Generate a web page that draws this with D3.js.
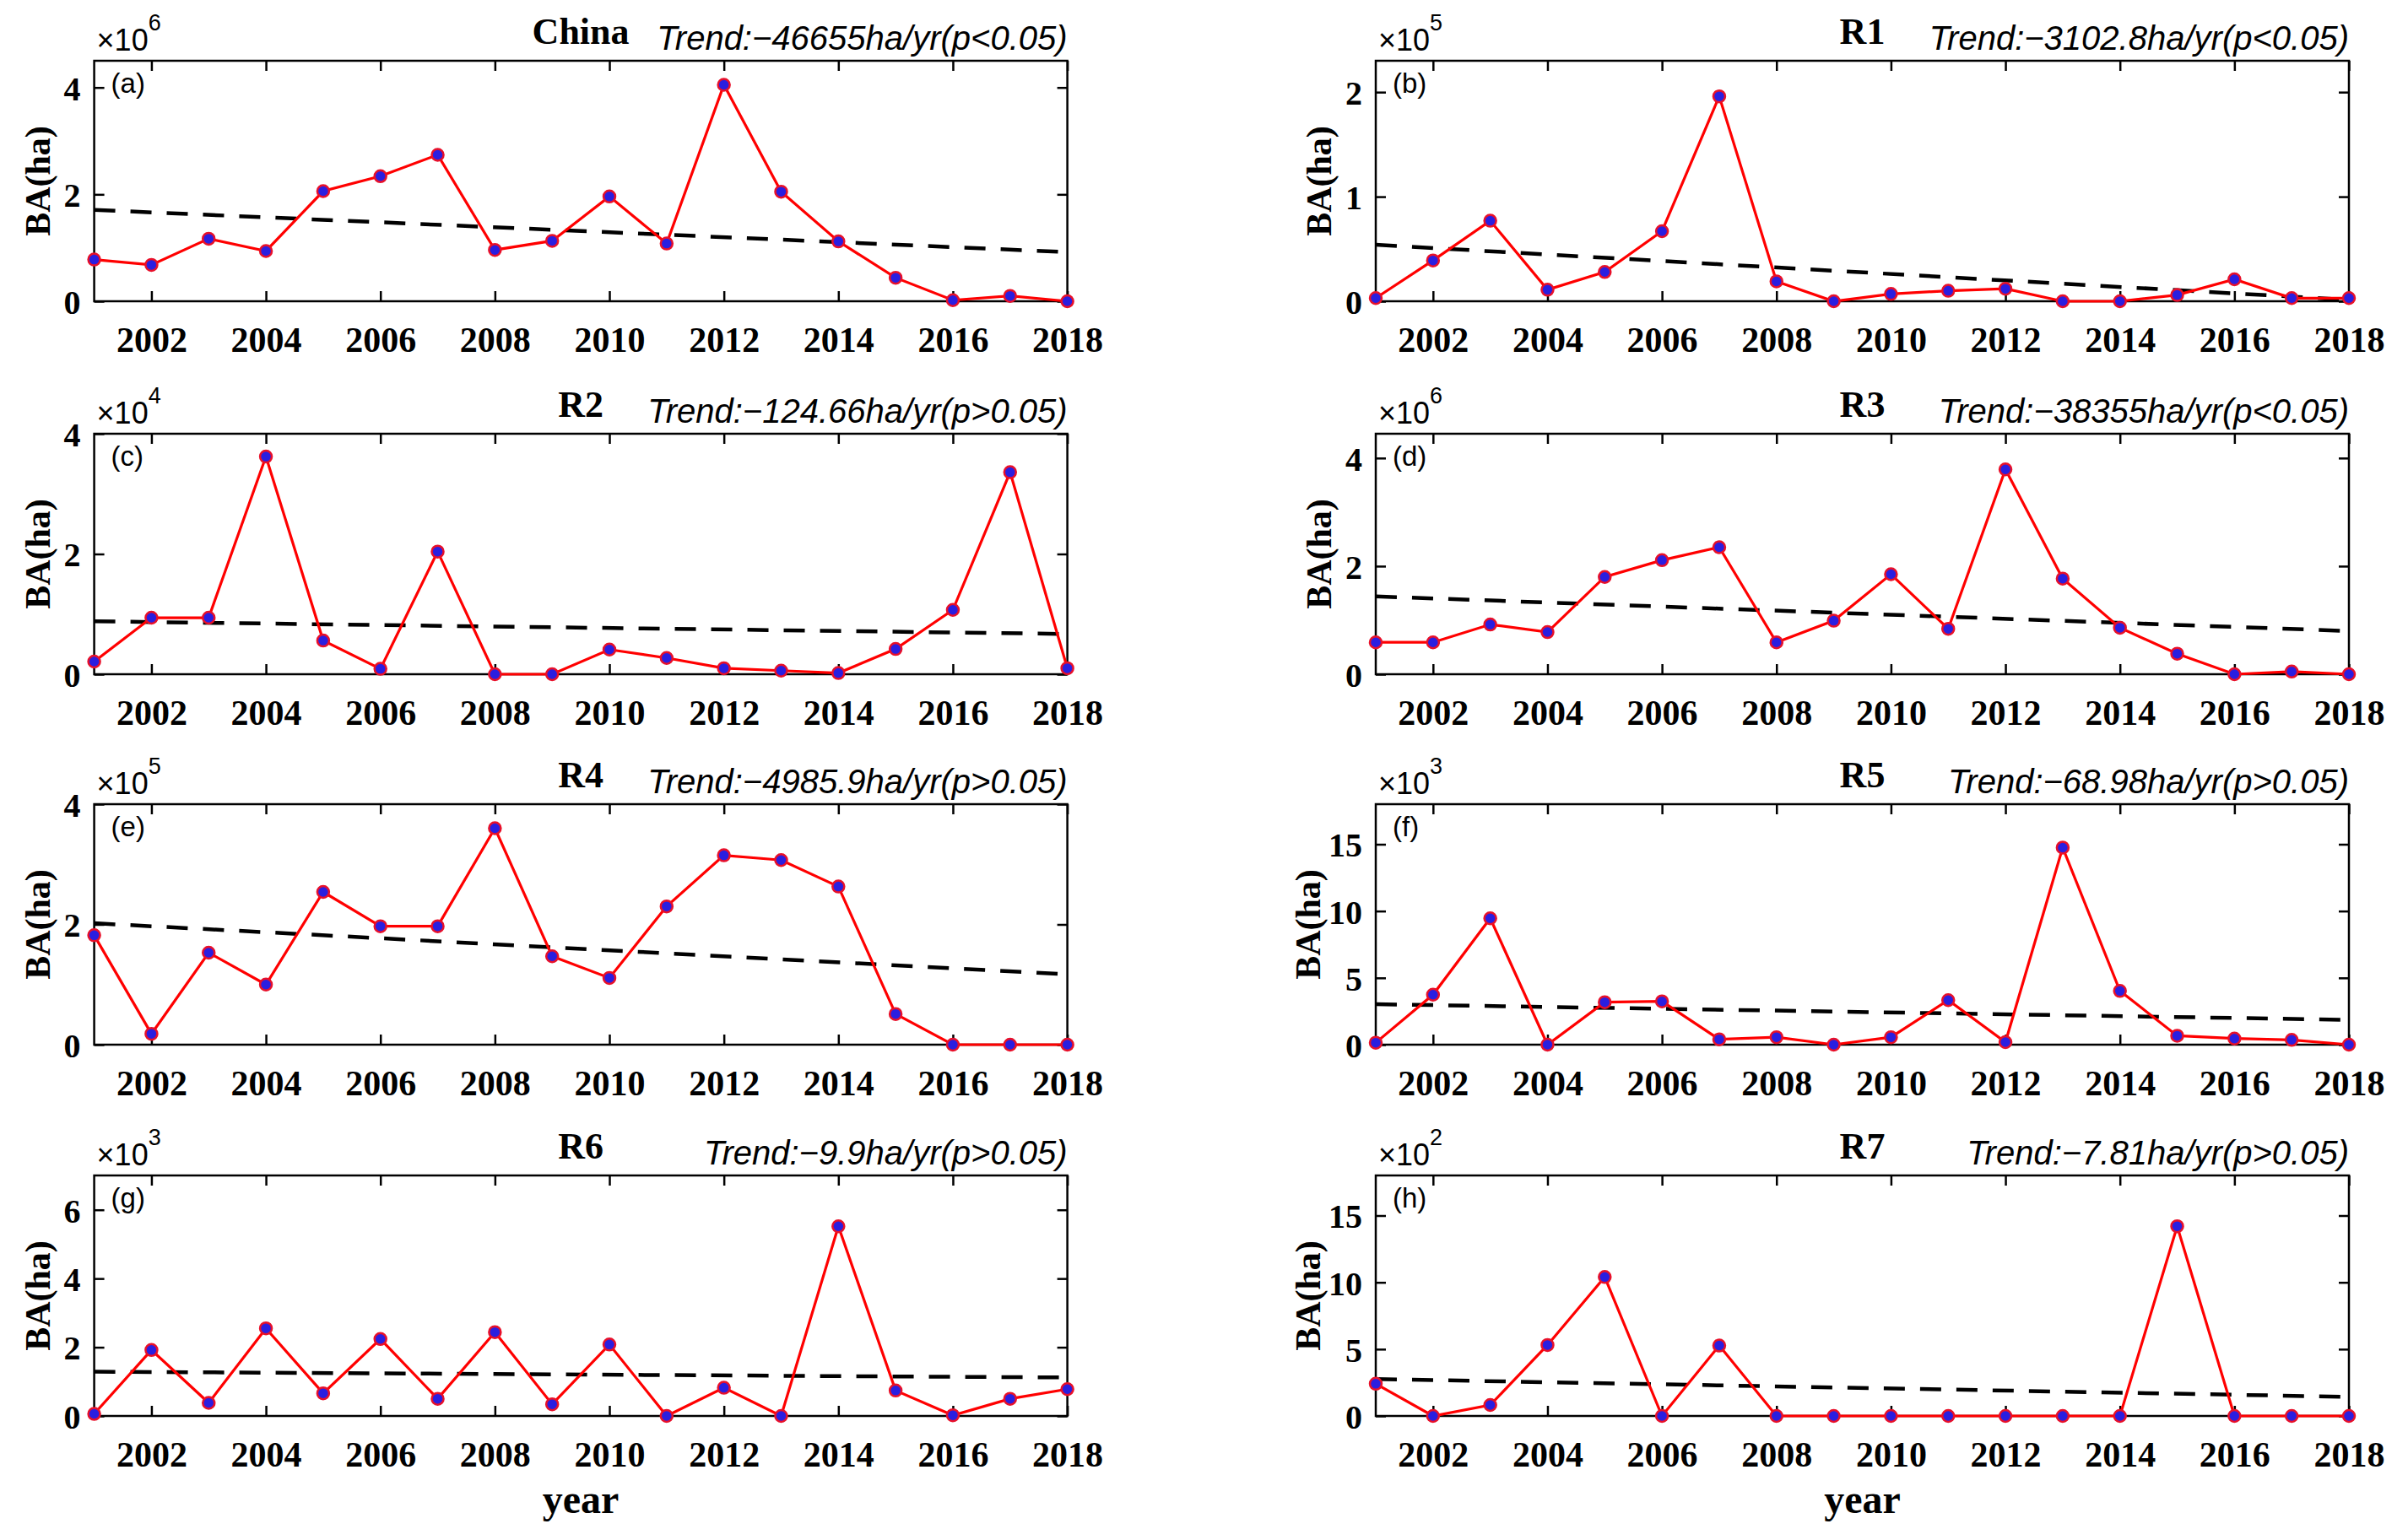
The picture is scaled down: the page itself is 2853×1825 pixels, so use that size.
<!DOCTYPE html>
<html>
<head>
<meta charset="utf-8">
<script src="https://cdn.jsdelivr.net/npm/d3@7"></script>
<style>
  body { margin: 0; background: #fff; }
  .tick text { font-family: "Liberation Serif", "Times New Roman", serif; font-weight: bold; fill: #000; }
  .tick line { stroke: #000; stroke-width: 2.5; }
</style>
</head>
<body>
<svg id="chart" width="2853" height="1825"></svg>
<script>
// ---- data ----
var years = d3.range(2001, 2019);
var xTicks = [2002, 2004, 2006, 2008, 2010, 2012, 2014, 2016, 2018];

var titles = ['China', 'R1', 'R2', 'R3', 'R4', 'R5', 'R6', 'R7'];
var letters = ['(a)', '(b)', '(c)', '(d)', '(e)', '(f)', '(g)', '(h)'];
var trendTexts = [
  'Trend:\u221246655ha/yr(p<0.05)',
  'Trend:\u22123102.8ha/yr(p<0.05)',
  'Trend:\u2212124.66ha/yr(p>0.05)',
  'Trend:\u221238355ha/yr(p<0.05)',
  'Trend:\u22124985.9ha/yr(p>0.05)',
  'Trend:\u221268.98ha/yr(p>0.05)',
  'Trend:\u22129.9ha/yr(p>0.05)',
  'Trend:\u22127.81ha/yr(p>0.05)'
];
var exponents = [6, 5, 4, 6, 5, 3, 3, 2];
var yMax = [4.5, 2.3, 4, 4.45, 4, 18, 7, 18];
var yTicks = [[0,2,4], [0,1,2], [0,2,4], [0,2,4], [0,2,4], [0,5,10,15], [0,2,4,6], [0,5,10,15]];

// burned area, in units of 10^exponent
var baChina = [0.78,0.68,1.17,0.94,2.06,2.34,2.74,0.96,1.13,1.96,1.08,4.05,2.05,1.12,0.44,0.02,0.10,0.00];
var baR1    = [0.03,0.39,0.77,0.11,0.28,0.67,1.96,0.19,0.00,0.07,0.10,0.12,0.00,0.00,0.06,0.21,0.03,0.03];
var baR2    = [0.21,0.94,0.94,3.62,0.56,0.09,2.04,0.00,0.00,0.41,0.27,0.10,0.06,0.02,0.42,1.07,3.36,0.10];
var baR3    = [0.59,0.59,0.92,0.78,1.80,2.11,2.35,0.59,0.99,1.85,0.84,3.79,1.77,0.86,0.38,0.00,0.05,0.00];
var baR4    = [1.82,0.18,1.53,1.00,2.54,1.97,1.97,3.60,1.47,1.11,2.30,3.15,3.07,2.63,0.51,0.00,0.00,0.00];
var baR5    = [0.15,3.74,9.46,0.00,3.18,3.24,0.40,0.56,0.00,0.56,3.33,0.19,14.75,4.02,0.67,0.46,0.36,0.00];
var baR6    = [0.06,1.92,0.38,2.55,0.66,2.24,0.50,2.44,0.34,2.08,0.00,0.82,0.00,5.52,0.74,0.02,0.50,0.78];
var baR7    = [2.41,0.00,0.82,5.31,10.4,0.00,5.27,0.00,0.00,0.00,0.00,0.00,0.00,0.00,14.2,0.00,0.00,0.00];
var series = [baChina, baR1, baR2, baR3, baR4, baR5, baR6, baR7];

// linear trend line values at 2001 and 2018
var trendStart = [1.71, 0.54, 0.88, 1.44, 2.02, 3.03, 1.29, 2.76];
var trendEnd   = [0.92, 0.013, 0.67, 0.80, 1.17, 1.86, 1.12, 1.43];

// ---- layout ----
var svg = d3.select('#chart');
var colX = [111.6, 1630];
var rowY = [72, 514, 953, 1393];
var pw = 1153, ph = 285;
var serif = '"Liberation Serif", "Times New Roman", serif';
var sans = '"Liberation Sans", Arial, sans-serif';

series.forEach(function(vals, i) {
  var col = i % 2, row = Math.floor(i / 2);
  var g = svg.append('g')
    .attr('transform', 'translate(' + colX[col] + ',' + rowY[row] + ')');

  var x = d3.scaleLinear().domain([2001, 2018]).range([0, pw]);
  var y = d3.scaleLinear().domain([0, yMax[i]]).range([ph, 0]);

  // axes (ticks pointing inward)
  var bottom = g.append('g')
    .attr('transform', 'translate(0,' + ph + ')')
    .call(d3.axisBottom(x).tickValues(xTicks).tickFormat(d3.format('d'))
      .tickSizeInner(-12).tickSizeOuter(0).tickPadding(30));
  bottom.selectAll('text').style('font-size', '42px');

  g.append('g')
    .call(d3.axisTop(x).tickValues(xTicks).tickFormat('')
      .tickSizeInner(-12).tickSizeOuter(0));

  var left = g.append('g')
    .call(d3.axisLeft(y).tickValues(yTicks[i]).tickFormat(d3.format('d'))
      .tickSizeInner(-12).tickSizeOuter(0).tickPadding(16));
  left.selectAll('text').style('font-size', '40px').attr('dy', '0.36em');

  g.append('g')
    .attr('transform', 'translate(' + pw + ',0)')
    .call(d3.axisRight(y).tickValues(yTicks[i]).tickFormat('')
      .tickSizeInner(-12).tickSizeOuter(0));

  g.selectAll('.domain').remove();

  // frame
  g.append('rect')
    .attr('width', pw).attr('height', ph)
    .attr('fill', 'none').attr('stroke', '#000').attr('stroke-width', 2.5);

  // trend line
  g.append('line')
    .attr('x1', x(2001)).attr('y1', y(trendStart[i]))
    .attr('x2', x(2018)).attr('y2', y(trendEnd[i]))
    .attr('stroke', '#000').attr('stroke-width', 4.5)
    .attr('stroke-dasharray', '25,18');

  // data line + markers
  var line = d3.line()
    .x(function(d, j) { return x(years[j]); })
    .y(function(d) { return y(d); });

  g.append('path')
    .datum(vals)
    .attr('d', line)
    .attr('fill', 'none')
    .attr('stroke', '#ff0000')
    .attr('stroke-width', 3.2);

  g.selectAll('circle')
    .data(vals)
    .enter().append('circle')
    .attr('cx', function(d, j) { return x(years[j]); })
    .attr('cy', function(d) { return y(d); })
    .attr('r', 7)
    .attr('fill', '#2a1ee0')
    .attr('stroke', '#e8102a')
    .attr('stroke-width', 2.5);

  // y label
  var yLabelX = yTicks[i][yTicks[i].length - 1] >= 10 ? -66 : -53;
  g.append('text')
    .attr('transform', 'translate(' + yLabelX + ',' + (ph / 2) + ') rotate(-90)')
    .attr('text-anchor', 'middle')
    .style('font-family', serif).style('font-weight', 'bold').style('font-size', '42px')
    .text('BA(ha)');

  // exponent label
  var ex = g.append('text')
    .attr('x', 3).attr('y', -12)
    .style('font-family', sans).style('font-size', '36px');
  ex.append('tspan').text('\u00d710');
  ex.append('tspan').attr('dy', -24).style('font-size', '27px').text(exponents[i]);

  // panel letter
  g.append('text')
    .attr('x', 20).attr('y', 38)
    .style('font-family', sans).style('font-size', '33px')
    .text(letters[i]);

  // title
  g.append('text')
    .attr('x', pw / 2).attr('y', -20)
    .attr('text-anchor', 'middle')
    .style('font-family', serif).style('font-weight', 'bold').style('font-size', '44px')
    .text(titles[i]);

  // trend text
  g.append('text')
    .attr('x', pw).attr('y', -13)
    .attr('text-anchor', 'end')
    .style('font-family', sans).style('font-style', 'italic').style('font-size', '40px')
    .text(trendTexts[i]);

  // x label on bottom row
  if (row === 3) {
    g.append('text')
      .attr('x', pw / 2).attr('y', ph + 115)
      .attr('text-anchor', 'middle')
      .style('font-family', serif).style('font-weight', 'bold').style('font-size', '48px')
      .text('year');
  }
});
</script>
</body>
</html>
